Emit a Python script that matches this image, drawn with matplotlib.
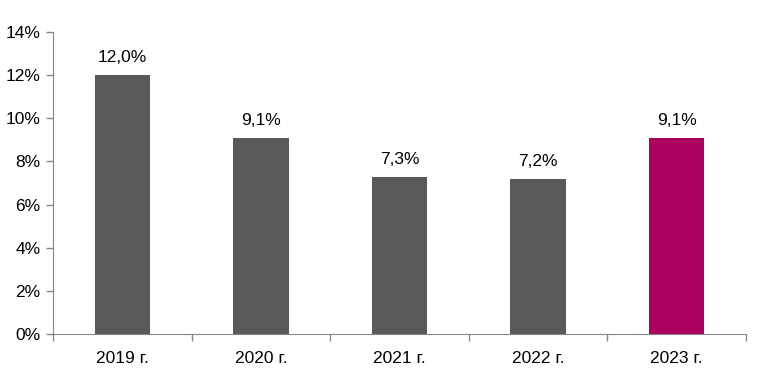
import numpy as np
import matplotlib.pyplot as plt
from matplotlib.ticker import FuncFormatter

years = ["2019 г.", "2020 г.", "2021 г.", "2022 г.", "2023 г."]
values = [12.0, 9.1, 7.3, 7.2, 9.1]
labels = ["12,0%", "9,1%", "7,3%", "7,2%", "9,1%"]
colors = ["#595959", "#595959", "#595959", "#595959", "#AD005E"]

plt.rcParams["font.family"] = ["Liberation Sans", "DejaVu Sans"]
plt.rcParams["font.size"] = 12.5

fig = plt.figure(figsize=(7.63, 3.84), dpi=100)
ax = fig.add_axes([53 / 763, 1 - 334 / 384, (746 - 53) / 763, (334 - 32) / 384])

x = np.arange(len(years))
bars = ax.bar(x, values, width=0.4, color=colors)
for b, lab in zip(bars, labels):
    ax.text(b.get_x() + b.get_width() / 2, b.get_height() + 0.45, lab,
            ha="center", va="bottom")

ax.set_xlim(-0.5, len(years) - 0.5)
ax.set_ylim(0, 14)
ax.set_yticks(np.arange(0, 15, 2))
ax.yaxis.set_major_formatter(FuncFormatter(lambda v, p: f"{v:.0f}%"))

ax.set_xticks(x)
ax.set_xticklabels(years)
ax.set_xticks(np.arange(-0.5, len(years), 1), minor=True)
ax.tick_params(axis="x", which="major", length=0, pad=12)
ax.tick_params(axis="x", which="minor", length=5, color="#868686", width=1)
ax.tick_params(axis="y", length=5, color="#868686", width=1, pad=4)

for s in ["top", "right"]:
    ax.spines[s].set_visible(False)
for s in ["left", "bottom"]:
    ax.spines[s].set_color("#868686")

fig.savefig("out.png", dpi=100)
